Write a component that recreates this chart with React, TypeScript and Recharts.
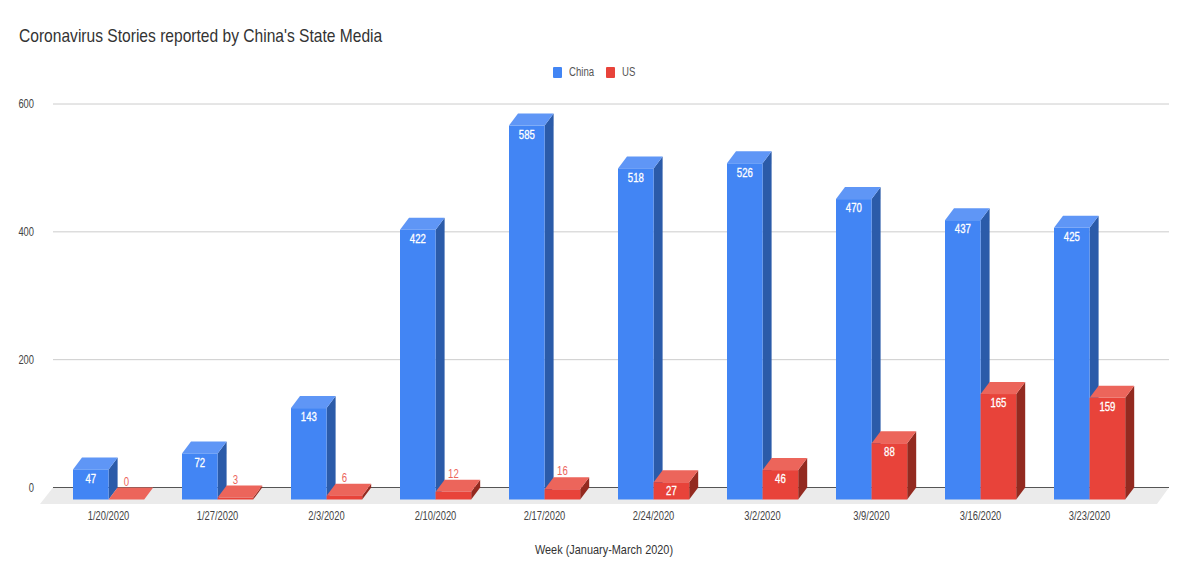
import React from 'react';
import { BarChart, Bar, XAxis, YAxis, CartesianGrid, Legend, LabelList } from 'recharts';

const weeks = ['1/20/2020','1/27/2020','2/3/2020','2/10/2020','2/17/2020','2/24/2020','3/2/2020','3/9/2020','3/16/2020','3/23/2020'];
const china = [47,72,143,422,585,518,526,470,437,425];
const us = [0,3,6,12,16,27,46,88,165,159];
const yTicks = [0,200,400,600];
const data = weeks.map((week,i)=>({week,China:china[i],US:us[i]}));

const FONT = '"Liberation Sans",Arial,sans-serif';
const DX = 9, DY = 12;
const BLUE = {front:'#4285f4',top:'#5f96f6',side:'#2b5ba9'};
const RED = {front:'#e8433a',top:'#ec655b',side:'#932a20'};

const bar3d = (c: typeof BLUE) => (p: any) => {
  const {x,y,width:w,height:h} = p;
  const fy = y + DY;
  return (
    <g>
      <polygon points={`${x+w},${fy} ${x+w+DX},${y} ${x+w+DX},${y+h} ${x+w},${fy+h}`} fill={c.side} />
      <polygon points={`${x},${fy} ${x+DX},${y} ${x+w+DX},${y} ${x+w},${fy}`} fill={c.top} />
      <rect x={x} y={fy} width={w} height={Math.max(h,0)} fill={c.front} />
    </g>
  );
};

const Narrow = ({x,y,scale=0.78,anchor='middle',size=12,fill='#444',heavy=false,children}: any) => (
  <text transform={`translate(${x},${y}) scale(${scale},1)`} textAnchor={anchor} dy="0.35em"
    fontFamily={FONT} fontSize={size} fill={fill} stroke={heavy?fill:'none'} strokeWidth={heavy?0.3:0}>{children}</text>
);

const barLabel = (outsideColor: string) => (p: any) => {
  const {x,y,width:w,height:h,value} = p;
  const inside = h >= 15;
  return (
    <Narrow x={x+w/2} y={inside ? y+DY+9 : y-6} scale={0.8} heavy={inside}
      fill={inside?'#ffffff':outsideColor}>{value}</Narrow>
  );
};

const gridLine = (p: any) => {
  const {y1,key} = p;
  const isBase = Math.abs(y1-487.5) < 1;
  return (
    <g key={key}>
      {isBase && <polygon points={`53,${y1} 1169,${y1} 1157,${y1+16.5} 40,${y1+16.5}`} fill="#ebebeb" />}
      <line x1={53} x2={1169} y1={y1} y2={y1} stroke={isBase?'#555555':'#cccccc'} strokeWidth={1} />
    </g>
  );
};

const xTick = (p: any) => <Narrow x={p.x} y={p.y}>{p.payload.value}</Narrow>;
const yTick = (p: any) => <Narrow x={p.x} y={p.y} anchor="end">{p.payload.value}</Narrow>;
const xTitle = (p: any) => {
  const v = p.viewBox;
  return <Narrow x={v.x+v.width/2+5} y={549} scale={0.84} size={13} fill="#333">Week (January-March 2020)</Narrow>;
};

const legendContent = (p: any) => (
  <div style={{position:'relative',height:0,fontFamily:FONT,fontSize:12,color:'#555'}}>
    {(p.payload||[]).map((e: any,i: number)=>{
      const left = i===0?553:606;
      return (
        <React.Fragment key={e.value}>
          <span style={{position:'absolute',left,top:0,width:9,height:11,background:e.color,borderRadius:1}} />
          <span style={{position:'absolute',left:left+16,top:-2,lineHeight:'15px',transform:'scaleX(0.8)',transformOrigin:'left'}}>{e.value}</span>
        </React.Fragment>
      );
    })}
  </div>
);

export default function App(){
  return (
    <div style={{position:'absolute',left:0,top:0,width:1200,height:577,background:'#fff',overflow:'hidden'}}>
      <div style={{position:'absolute',left:19,top:25,fontFamily:FONT,fontSize:19,color:'#333',whiteSpace:'nowrap',zIndex:2,transform:'scaleX(0.82)',transformOrigin:'left'}}>
        Coronavirus Stories reported by China's State Media
      </div>
      <BarChart width={1200} height={577} data={data} barCategoryGap={18.9} barGap={0} barSize={35.6}
        margin={{left:0,right:56,top:104,bottom:0}}>
        <CartesianGrid vertical={false} horizontal={gridLine} />
        <XAxis dataKey="week" height={89.5} axisLine={false} tickLine={false} tickSize={0} tickMargin={28.5} interval={0}
          tick={xTick} label={xTitle} />
        <YAxis width={54} domain={[0,600]} ticks={yTicks} axisLine={false} tickLine={false} tickSize={0} tickMargin={20}
          tick={yTick} />
        <Legend verticalAlign="top" wrapperStyle={{position:'absolute',left:0,top:67,width:1200}} content={legendContent} />
        <Bar dataKey="China" fill={BLUE.front} shape={bar3d(BLUE)} isAnimationActive={false}>
          <LabelList dataKey="China" content={barLabel('#ffffff')} />
        </Bar>
        <Bar dataKey="US" fill={RED.front} shape={bar3d(RED)} isAnimationActive={false}>
          <LabelList dataKey="US" content={barLabel('#ec655b')} />
        </Bar>
      </BarChart>
    </div>
  );
}
